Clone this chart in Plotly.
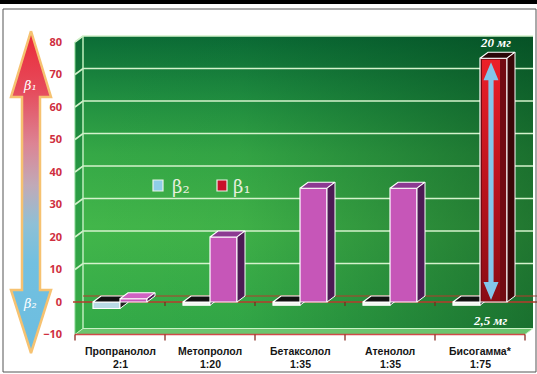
import plotly.graph_objects as go

# ---------------- data ----------------
categories = ["Пропранолол", "Метопролол", "Бетаксолол", "Атенолол", "Бисогамма*"]
ratios = ["2:1", "1:20", "1:35", "1:35", "1:75"]
beta1 = [1, 20, 35, 35, 75]
beta2 = [-2, -1, -1, -1, -1]
y_ticks = [-10, 0, 10, 20, 30, 40, 50, 60, 70, 80]
dose_top = "20 мг"
dose_bottom = "2,5 мг"

# ---------------- geometry helpers ----------------
W, H = 537, 374
PX_X = 1 / 90.0      # x units per pixel
PX_Y = 1 / 3.25      # y units per pixel
DX = 8 * PX_X        # 3D depth
DY = 6 * PX_Y
YMIN, YMAX = y_ticks[0], y_ticks[-1]
n = len(categories)
XL, XR = -0.5, n - 0.5
BW = 0.3             # bar width

fig = go.Figure()


def poly(xs, ys, fill, line=None, lw=1.0, z=0, grad=None, xa="x", ya="y"):
    kw = dict(
        x=list(xs) + [xs[0]], y=list(ys) + [ys[0]], mode="lines", fill="toself",
        fillcolor=fill, line=dict(color=line if line else "rgba(0,0,0,0)", width=lw if line else 0),
        hoverinfo="skip", showlegend=False, zorder=z, xaxis=xa, yaxis=ya,
    )
    if grad:
        kw["fillgradient"] = grad
    fig.add_trace(go.Scatter(**kw))


def lines(xs, ys, color, width, z=1, xa="x", ya="y"):
    fig.add_trace(go.Scatter(x=xs, y=ys, mode="lines", line=dict(color=color, width=width),
                             hoverinfo="skip", showlegend=False, zorder=z, xaxis=xa, yaxis=ya))


# ---------------- back wall with gradients ----------------
wx = [XL + DX, XR + DX, XR + DX, XL + DX]
wy = [YMIN + DY, YMIN + DY, YMAX + DY, YMAX + DY]
poly(wx, wy, "#2fa548", z=0, grad=dict(
    type="vertical", start=YMIN + DY, stop=YMAX + DY,
    colorscale=[[0, "#33aa48"], [0.35, "#42b64a"], [0.6, "#35a846"], [0.8, "#1f8d40"], [1, "#0b6c36"]]))
poly(wx, wy, "rgba(0,0,0,0)", z=0, grad=dict(
    type="horizontal", start=XL + DX, stop=XR + DX,
    colorscale=[[0, "rgba(0,60,25,0)"], [0.35, "rgba(0,60,25,0.05)"], [0.7, "rgba(0,60,25,0.3)"], [1, "rgba(0,55,22,0.5)"]]))

# left wall
poly([XL, XL, XL + DX, XL + DX], [YMIN, YMAX, YMAX + DY, YMIN + DY], "#1d8a3e", line="#7fd48a", lw=1, z=0,
     grad=dict(type="vertical", start=YMIN, stop=YMAX + DY,
               colorscale=[[0, "#3aae48"], [0.5, "#2a9c44"], [1, "#0a6a34"]]))
# floor
poly([XL, XR, XR + DX, XL + DX], [YMIN, YMIN, YMIN + DY, YMIN + DY], "#6cc46e", line="#c8f0c4", lw=1, z=0)

# grid lines with wall stubs
gx, gy = [], []
for v in y_ticks:
    if v <= 0:
        continue
    gx += [XL, XL + DX, XR + DX, None]
    gy += [v, v + DY, v + DY, None]
lines(gx, gy, "#d4f2cc", 1.6, z=1)
lines([XL + DX, XL + DX], [YMIN + DY, YMAX + DY], "#c8eec4", 1.2, z=1)

# zero lines (back and front) + ticks
xright = XL + 462 * PX_X
lines([XL + DX, xright], [DY, DY], "#b83a2c", 1.2, z=1)
lines([XL - 2 * PX_X, xright], [0, 0], "#b83a2c", 1.4, z=1)
tx, ty = [], []
for k in range(1, n):
    tx += [XL + k, XL + k, None]
    ty += [0, -4 * PX_Y, None]
lines(tx, ty, "#7a2a1a", 1.2, z=1)

# bottom axis line with ticks
lines([XL, XR], [YMIN, YMIN], "#d04848", 1.6, z=1)
bx, by = [], []
for k in range(0, n + 1):
    bx += [XL + k, XL + k, None]
    by += [YMIN, YMIN - 6 * PX_Y, None]
lines(bx, by, "#8a2a20", 1.3, z=1)

# ---------------- bars ----------------
pos = list(range(n))
b2_front = ["#b9dbe6"] + ["#f2f6f0"] * (n - 1)
b1_front = ["#c656b8"] * (n - 1) + ["#720a12"]
b1_top = ["#cf62c2"] + ["#8c3a92"] * (n - 2) + ["#2a0608"]
b1_side = ["#4c1a54"] * (n - 1) + ["#3a0608"]

fig.add_trace(go.Bar(x=[p - BW / 2 for p in pos], y=beta2, base=0, width=BW,
                     marker=dict(color=b2_front, line=dict(color="white", width=1.2)),
                     hoverinfo="skip", showlegend=False, zorder=2))
for i, v in enumerate(beta2):
    lo, hi = min(0, v), max(0, v)
    x0, x1 = i - BW, i
    poly([x0, x1, x1 + DX, x0 + DX], [hi, hi, hi + DY, hi + DY], "#111111", line="white", lw=1.2, z=3)
    poly([x1, x1, x1 + DX, x1 + DX], [lo, hi, hi + DY, lo + DY], "#222222", line="white", lw=1, z=3)

fig.add_trace(go.Bar(x=[p + BW / 2 for p in pos], y=beta1, base=0, width=BW,
                     marker=dict(color=b1_front, line=dict(color="white", width=1.2)),
                     hoverinfo="skip", showlegend=False, zorder=4))
for i, v in enumerate(beta1):
    x0, x1 = i, i + BW
    poly([x0, x1, x1 + DX, x0 + DX], [v, v, v + DY, v + DY], b1_top[i], line="white", lw=1.2, z=5)
    poly([x1, x1, x1 + DX, x1 + DX], [0, v, v + DY, DY], b1_side[i], line="white", lw=1, z=5)

# Bisogamma bar decoration: inner red panel and double-headed dose arrow
ib = n - 1
vb = beta1[ib]
ix0, ix1 = ib + 2 * PX_X, ib + BW - 7 * PX_X
poly([ix0, ix1, ix1, ix0], [1 * PX_Y, 1 * PX_Y, vb - 1.5 * PX_Y, vb - 1.5 * PX_Y], "#d01820", z=6,
     grad=dict(type="vertical", start=0, stop=vb,
               colorscale=[[0, "#8a0c14"], [0.45, "#b8121c"], [1, "#ec2029"]]))
xc = ib + 11 * PX_X
sw, hw, hl = 2.6 * PX_X, 7.5 * PX_X, 18 * PX_Y
yt, yb = vb - 4 * PX_Y, 2 * PX_Y
poly([xc, xc + hw, xc + sw, xc + sw, xc + hw, xc, xc - hw, xc - sw, xc - sw, xc - hw],
     [yt, yt - hl, yt - hl, yb + hl, yb + hl, yb, yb + hl, yb + hl, yt - hl, yt - hl],
     "#84c6ea", z=7)

# ---------------- left double arrow (decoration, pixel axes) ----------------
ax = [31, 51, 40, 40, 51, 31, 11, 22, 22, 11]
ay = [31, 97, 97, 290, 290, 353, 290, 290, 97, 97]
poly(ax, ay, "#d0a0b0", line="#f6c271", lw=2.5, z=0, xa="x2", ya="y2",
     grad=dict(type="vertical", start=31, stop=353,
               colorscale=[[0, "#ea2a38"], [0.18, "#e64a5a"], [0.35, "#dc8494"], [0.48, "#c0aab8"],
                           [0.6, "#8ec0d6"], [0.72, "#72c0e0"], [1, "#6cbde0"]]))

# ---------------- frame ----------------
shapes = [
    dict(type="rect", xref="x2", yref="y2", x0=0, x1=W, y0=0, y1=4, fillcolor="black", line=dict(width=0)),
    dict(type="rect", xref="x2", yref="y2", x0=3, x1=536, y0=9, y1=372, fillcolor="rgba(0,0,0,0)",
         line=dict(color="#555555", width=1)),
    # legend swatches
    dict(type="rect", xref="x2", yref="y2", x0=153, x1=163, y0=180, y1=191, fillcolor="#8ecde8",
         line=dict(color="#e8f4e8", width=1.2)),
    dict(type="rect", xref="x2", yref="y2", x0=217, x1=227, y0=180, y1=191, fillcolor="#c8102a",
         line=dict(color="#e8f4e8", width=1.2)),
]

lab_font = dict(family="Liberation Sans", size=10.5, color="#151515")
annotations = []
for i, (c, r) in enumerate(zip(categories, ratios)):
    annotations.append(dict(x=i, y=351, xref="x", yref="y2", text=f"<b>{c}</b>", showarrow=False, font=lab_font))
    annotations.append(dict(x=i, y=364, xref="x", yref="y2", text=f"<b>{r}</b>", showarrow=False, font=lab_font))
annotations += [
    dict(x=ib + 0.167, y=vb + DY + 0.5 * PX_Y, xref="x", yref="y", yanchor="bottom", showarrow=False,
         text=f"<b><i>{dose_top}</i></b>", font=dict(family="Liberation Serif", size=13, color="white")),
    dict(x=ib + 0.11, y=-5.6, xref="x", yref="y", showarrow=False,
         text=f"<b><i>{dose_bottom}</i></b>", font=dict(family="Liberation Serif", size=13, color="white")),
    dict(x=181, y=186, xref="x2", yref="y2", showarrow=False, text="β₂",
         font=dict(family="DejaVu Serif", size=18, color="#e6efdc")),
    dict(x=242, y=186, xref="x2", yref="y2", showarrow=False, text="β₁",
         font=dict(family="DejaVu Serif", size=18, color="#e6efdc")),
    dict(x=30, y=85, xref="x2", yref="y2", showarrow=False, text="<i>β₁</i>",
         font=dict(family="DejaVu Serif", size=13, color="white")),
    dict(x=30, y=303, xref="x2", yref="y2", showarrow=False, text="<i>β₂</i>",
         font=dict(family="DejaVu Serif", size=13, color="white")),
]

fig.update_layout(
    width=W, height=H, margin=dict(l=0, r=0, t=0, b=0),
    paper_bgcolor="white", plot_bgcolor="rgba(0,0,0,0)",
    showlegend=False, barmode="overlay",
    xaxis=dict(domain=[70 / W, 1], range=[XL - 5 * PX_X, XL + 462 * PX_X], visible=False, fixedrange=True),
    yaxis=dict(domain=[32 / H, 346 / H], range=[-40 * PX_Y, 274 * PX_Y], tickvals=y_ticks,
               ticktext=[str(t).replace("-", "−") for t in y_ticks], ticks="", showgrid=False,
               zeroline=False, showline=False, ticklabelstandoff=7, fixedrange=True,
               tickfont=dict(family="Open Sans", size=11, color="#cf2f3f", weight=700)),
    xaxis2=dict(domain=[0, 1], range=[0, W], visible=False, anchor="y2", fixedrange=True),
    yaxis2=dict(domain=[0, 1], range=[H, 0], visible=False, anchor="x2", fixedrange=True),
    shapes=shapes, annotations=annotations,
)

fig.write_html("out.html")
